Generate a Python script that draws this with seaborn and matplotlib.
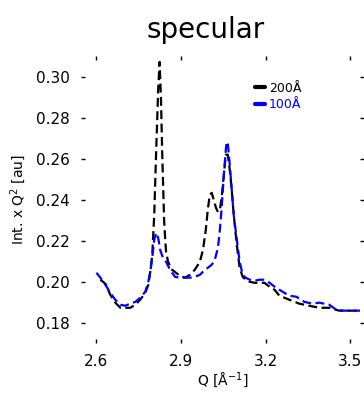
import numpy as np
import pandas as pd
import seaborn as sns
import matplotlib
matplotlib.use("Agg")
import matplotlib.pyplot as plt

# ---- data ----
q_200 = [2.614, 2.632, 2.649, 2.667, 2.685, 2.702, 2.720, 2.738, 2.755, 2.773, 2.784,
         2.791, 2.798, 2.805, 2.812, 2.819, 2.824, 2.829, 2.833, 2.840, 2.844, 2.847,
         2.854, 2.868, 2.882, 2.896, 2.914, 2.932, 2.949, 2.967, 2.978, 2.988, 2.995,
         3.002, 3.009, 3.016, 3.024, 3.031, 3.038, 3.045, 3.052, 3.059, 3.066, 3.073,
         3.080, 3.087, 3.098, 3.108, 3.119, 3.129, 3.144, 3.161, 3.179, 3.196, 3.214,
         3.232, 3.249, 3.267, 3.285, 3.320, 3.355, 3.391, 3.426, 3.461, 3.496, 3.532]
i_200 = [0.2010, 0.1990, 0.1937, 0.1898, 0.1873, 0.1873, 0.1873, 0.1888, 0.1912, 0.1946, 0.1985,
         0.2049, 0.2132, 0.2327, 0.2644, 0.2937, 0.3073, 0.2888, 0.2644, 0.2302, 0.2205, 0.2146,
         0.2098, 0.2059, 0.2044, 0.2029, 0.2020, 0.2034, 0.2059, 0.2098, 0.2156, 0.2254, 0.2351,
         0.2424, 0.2434, 0.2400, 0.2361, 0.2341, 0.2351, 0.2424, 0.2522, 0.2620, 0.2620, 0.2546,
         0.2449, 0.2327, 0.2180, 0.2068, 0.2024, 0.2010, 0.2000, 0.1995, 0.1995, 0.1995, 0.1976,
         0.1961, 0.1932, 0.1922, 0.1912, 0.1893, 0.1883, 0.1873, 0.1873, 0.1859, 0.1859, 0.1859]

q_100 = [2.600, 2.614, 2.632, 2.649, 2.667, 2.685, 2.702, 2.720, 2.738, 2.755, 2.773,
         2.784, 2.791, 2.798, 2.805, 2.812, 2.819, 2.826, 2.836, 2.847, 2.861, 2.879,
         2.896, 2.914, 2.932, 2.949, 2.967, 2.985, 2.995, 3.009, 3.020, 3.031, 3.038,
         3.045, 3.052, 3.059, 3.062, 3.066, 3.073, 3.080, 3.087, 3.098, 3.108, 3.119,
         3.129, 3.144, 3.161, 3.179, 3.196, 3.214, 3.232, 3.249, 3.267, 3.285, 3.309,
         3.338, 3.366, 3.391, 3.426, 3.451, 3.479, 3.514, 3.539]
i_100 = [0.2044, 0.2020, 0.1985, 0.1946, 0.1912, 0.1888, 0.1883, 0.1893, 0.1902, 0.1922, 0.1951,
         0.2000, 0.2049, 0.2117, 0.2205, 0.2239, 0.2215, 0.2156, 0.2117, 0.2098, 0.2059, 0.2024,
         0.2020, 0.2020, 0.2020, 0.2024, 0.2034, 0.2059, 0.2068, 0.2083, 0.2107, 0.2166, 0.2254,
         0.2376, 0.2522, 0.2644, 0.2683, 0.2678, 0.2571, 0.2449, 0.2327, 0.2205, 0.2098, 0.2034,
         0.2020, 0.2010, 0.2005, 0.2010, 0.2010, 0.1995, 0.1976, 0.1961, 0.1946, 0.1932, 0.1927,
         0.1902, 0.1893, 0.1898, 0.1888, 0.1863, 0.1859, 0.1859, 0.1859]

series_labels = ["200Å", "100Å"]
series_colors = ["black", "#0000ff"]
x_ticks = [2.6, 2.9, 3.2, 3.5]
x_ticklabels = ["2.6", "2.9", "3.2", "3.5"]
y_ticks = [0.18, 0.20, 0.22, 0.24, 0.26, 0.28, 0.30]
y_ticklabels = ["0.18", "0.20", "0.22", "0.24", "0.26", "0.28", "0.30"]

df = pd.concat([
    pd.DataFrame({"Q": q_200, "I": i_200, "s": series_labels[0]}),
    pd.DataFrame({"Q": q_100, "I": i_100, "s": series_labels[1]}),
], ignore_index=True)

sns.set_style("ticks")
plt.rcParams["font.family"] = ["DejaVu Sans"]
plt.rcParams["text.color"] = "black"
plt.rcParams["axes.labelcolor"] = "black"
plt.rcParams["xtick.color"] = "black"
plt.rcParams["ytick.color"] = "black"

fig = plt.figure(figsize=(3.64, 3.99), dpi=100)
ax = fig.add_axes([0.234, 0.150, 0.755, 0.700])

sns.lineplot(data=df, x="Q", y="I", hue="s", palette=series_colors,
             hue_order=series_labels, sort=False, estimator=None,
             linewidth=1.6, ax=ax, legend=True)
for ln in ax.lines:
    ln.set_linestyle((0, (4, 2)))

ax.set_xlim(2.56, 3.535)
ax.set_ylim(0.172, 0.3083)
ax.set_xticks(x_ticks)
ax.set_xticklabels(x_ticklabels)
ax.set_yticks(y_ticks)
ax.set_yticklabels(y_ticklabels)
for sp in ax.spines.values():
    sp.set_visible(False)
ax.tick_params(axis="both", which="both", labelsize=11, length=3, width=1,
               top=True, right=True, direction="out", color="black",
               labelcolor="black")
ax.tick_params(axis="y", pad=8)
ax.tick_params(axis="x", pad=8)

ax.set_xlabel("Q [Å$^{-1}$]", fontsize=10, labelpad=1, color="black")
ax.set_ylabel("Int. x Q$^2$ [au]", fontsize=10, labelpad=6, color="black")
ax.set_title("specular", fontsize=20, pad=16, x=0.44, color="black")

leg = ax.legend(loc="upper left", bbox_to_anchor=(0.60, 0.94), frameon=False,
                fontsize=9, handlelength=0.8, handletextpad=0.3, labelspacing=0.3,
                borderaxespad=0)
for txt, c in zip(leg.get_texts(), series_colors):
    txt.set_color(c)
for h in leg.get_lines():
    h.set_linestyle("-")
    h.set_linewidth(3)

fig.savefig("out.png", dpi=100)
